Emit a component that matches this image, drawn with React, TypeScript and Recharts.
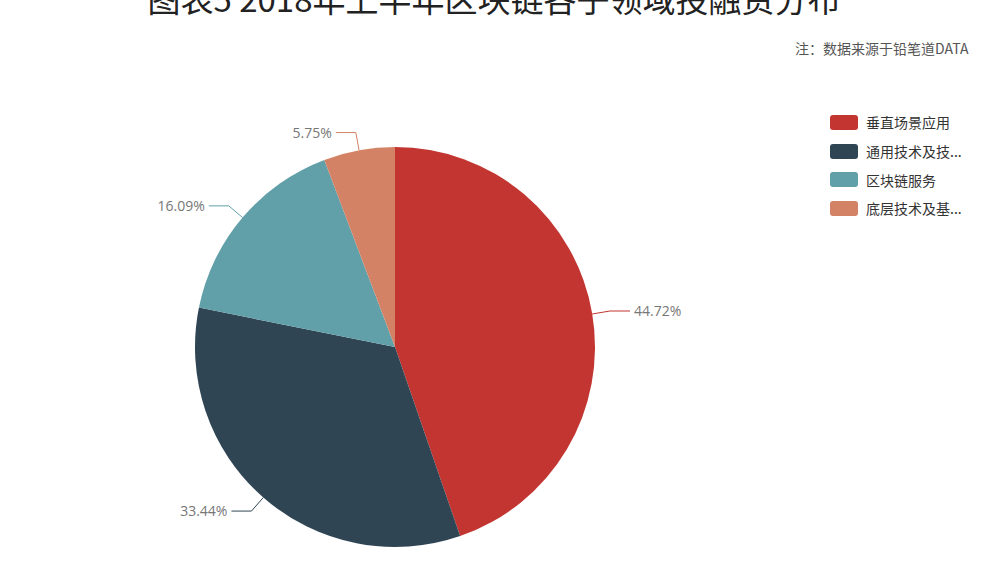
import { Cell, Legend, Pie, PieChart } from "recharts";

const categories = ["垂直场景应用", "通用技术及技术服务", "区块链服务", "底层技术及基础设施"];
const legendLabels = ["垂直场景应用", "通用技术及技...", "区块链服务", "底层技术及基..."];
const shares = [44.72, 33.44, 16.09, 5.75];
const colors = ["#c23531", "#2f4554", "#61a0a8", "#d48265"];

const data = categories.map((name, i) => ({ name, value: shares[i] }));

const RAD = Math.PI / 180;

// echarts-style outside label: radial tick, short horizontal run, then text
function renderLabel(props: any) {
  const { cx, cy, midAngle, outerRadius, value, index } = props;
  const cos = Math.cos(-midAngle * RAD);
  const sin = Math.sin(-midAngle * RAD);
  const x0 = cx + outerRadius * cos;
  const y0 = cy + outerRadius * sin;
  const x1 = cx + (outerRadius + 18) * cos;
  const y1 = cy + (outerRadius + 18) * sin;
  const dir = cos >= 0 ? 1 : -1;
  const x2 = x1 + dir * 20;
  return (
    <g>
      <polyline
        points={`${x0},${y0} ${x1},${y1} ${x2},${y1}`}
        fill="none"
        stroke={colors[index]}
        strokeWidth={1}
      />
      <text
        x={x2 + dir * 4}
        y={y1}
        dy={5}
        textAnchor={dir > 0 ? "start" : "end"}
        fill="#777"
        fontSize={14}
        fontFamily="'Open Sans', sans-serif"
      >
        {`${Number(value).toFixed(2)}%`}
      </text>
    </g>
  );
}

function LegendBox() {
  return (
    <div style={{ fontFamily: "'Noto Sans CJK SC', sans-serif" }}>
      {legendLabels.map((label, i) => (
        <div
          key={label}
          style={{ display: "flex", alignItems: "center", height: 28.7 }}
        >
          <div
            style={{
              width: 28,
              height: 15,
              borderRadius: 3,
              background: colors[i],
              marginRight: 8,
            }}
          />
          <span style={{ fontSize: 14, color: "#333" }}>{label}</span>
        </div>
      ))}
    </div>
  );
}

export default function App() {
  return (
    <div
      style={{
        position: "absolute",
        left: 0,
        top: 0,
        width: 1000,
        height: 562,
        background: "#fff",
        overflow: "hidden",
        fontFamily: "'Noto Sans CJK SC', sans-serif",
      }}
    >
      <div
        style={{
          position: "absolute",
          left: 0,
          width: 988,
          top: -24,
          textAlign: "center",
          fontSize: 33,
          lineHeight: "44px",
          color: "#222",
          whiteSpace: "nowrap",
        }}
      >
        图表5 2018年上半年区块链各子领域投融资分布
      </div>
      <div
        style={{
          position: "absolute",
          left: 795,
          top: 38,
          fontSize: 14,
          lineHeight: "20px",
          color: "#555",
          whiteSpace: "nowrap",
        }}
      >
        注：数据来源于铅笔道DATA
      </div>
      <PieChart width={1000} height={562} margin={{ top: 0, right: 0, bottom: 0, left: 0 }}>
        <Pie
          data={data}
          dataKey="value"
          nameKey="name"
          cx={395}
          cy={347}
          outerRadius={200}
          startAngle={90}
          endAngle={-270}
          stroke="none"
          label={renderLabel}
          labelLine={false}
          isAnimationActive={false}
        >
          {data.map((d, i) => (
            <Cell key={d.name} fill={colors[i]} />
          ))}
        </Pie>
        <Legend
          layout="vertical"
          align="right"
          verticalAlign="top"
          content={() => <LegendBox />}
          wrapperStyle={{ left: 830, top: 108, width: 160 }}
        />
      </PieChart>
    </div>
  );
}
